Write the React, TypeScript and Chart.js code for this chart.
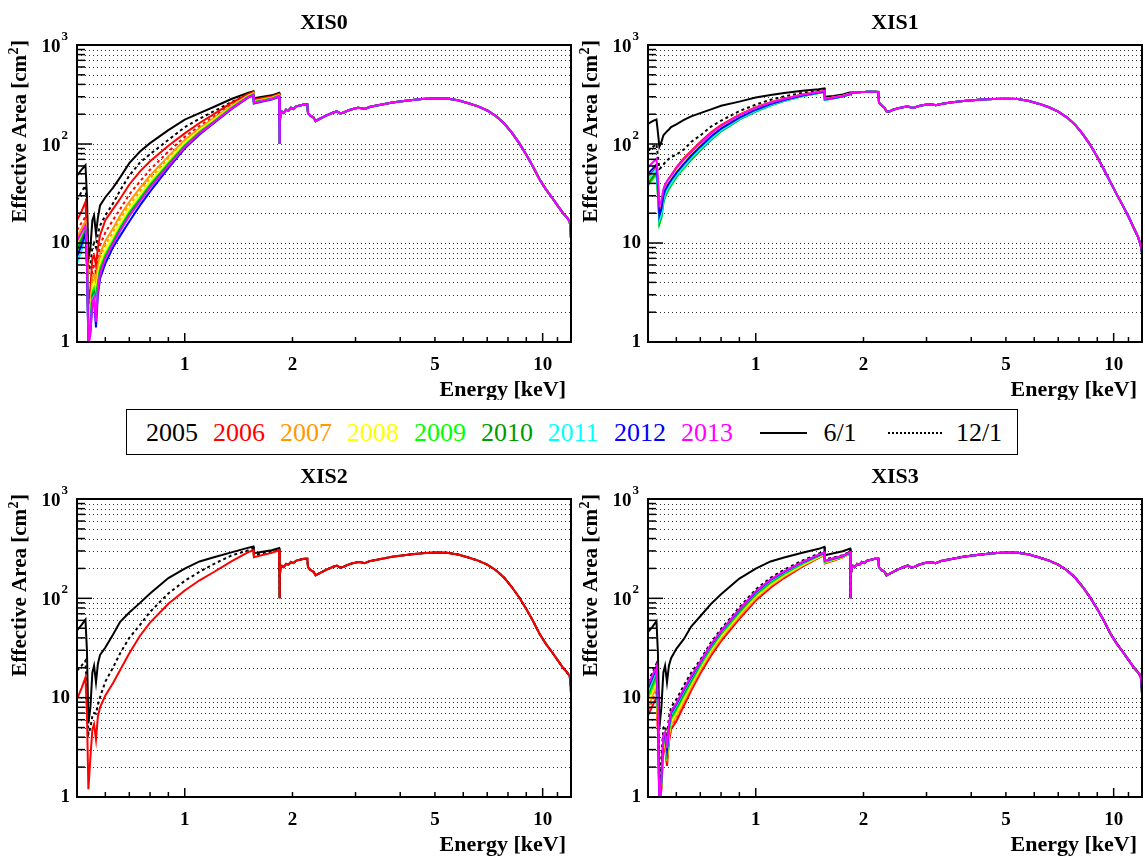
import React, { useEffect, useRef } from "react";
import { Chart, registerables } from "chart.js";

Chart.register(...registerables);

const FONT = "'Liberation Serif', 'Times New Roman', serif";

const YEARS = ["2005", "2006", "2007", "2008", "2009", "2010", "2011", "2012", "2013"];
const YEAR_COLORS = ["#000000", "#ff0000", "#ff9900", "#ffff00", "#00ff00", "#009a00", "#00ffff", "#0000ff", "#ff00ff"];
const X_TICK_LABELS = [1, 2, 5, 10];
const X_MINOR_TICKS = [0.6, 0.7, 0.8, 0.9, 2, 3, 4, 5, 6, 7, 8, 9, 11];
const X_MAJOR_TICKS = [1, 10];
const Y_MAJOR_TICKS = [1, 10, 100, 1000];
const X_MIN = 0.5;
const X_MAX = 12;
const Y_MIN = 1;
const Y_MAX = 1000;

// energy grid (keV) of the low-energy part, where the curves differ
const E_LO = [0.5, 0.515, 0.528, 0.533, 0.538, 0.545, 0.552, 0.558, 0.565, 0.572, 0.58, 0.6, 0.63, 0.66, 0.7, 0.75, 0.8, 0.9, 1.0, 1.1, 1.2, 1.35, 1.5, 1.555, 1.56, 1.65, 1.75, 1.835];
// energy grid of the high-energy part, where all curves of a sensor coincide
const E_TAIL = [1.84, 1.845, 1.855, 1.87, 1.89, 1.92, 1.95, 1.98, 2.01, 2.05, 2.1, 2.15, 2.2, 2.21, 2.25, 2.29, 2.32, 2.36, 2.42, 2.5, 2.6, 2.66, 2.72, 2.78, 2.86, 2.95, 3.05, 3.12, 3.18, 3.3, 3.5, 3.8, 4.2, 4.6, 5.0, 5.4, 5.8, 6.2, 6.6, 7.0, 7.4, 7.8, 8.2, 8.6, 9.0, 9.4, 9.8, 10.2, 10.6, 11.0, 11.4, 11.7, 11.9, 11.97, 12.0];
const TAIL_FI = [100, 175, 200, 212, 206, 222, 218, 232, 226, 240, 245, 250, 250, 205, 192, 185, 170, 176, 185, 196, 208, 214, 204, 208, 218, 226, 232, 230, 226, 238, 248, 262, 275, 284, 289, 288, 276, 258, 240, 218, 192, 162, 130, 102, 78, 59, 44, 35, 29, 24, 20, 18, 16.5, 13.5, 11];
const TAIL_BI = [328, 325, 330, 333, 330, 334, 333, 336, 335, 337, 338, 337, 335, 262, 245, 232, 214, 212, 222, 230, 237, 240, 232, 234, 242, 248, 252, 250, 246, 254, 262, 272, 280, 285, 287, 284, 272, 254, 235, 212, 186, 157, 126, 98, 74, 55, 41, 31, 24, 18.5, 14, 11.5, 9.5, 8.5, 8];

// XIS0
const XIS0_2005_JUN = [48, 55, 61, 30, 7, 9, 17, 19, 12.5, 18, 24, 29, 36, 46, 64, 84, 102, 138, 176, 205, 235, 285, 328, 340, 290, 300, 310, 328];
const XIS0_2005_DEC = [27, 33, 38, 20, 5, 6, 9, 10, 9, 12.5, 15, 19, 25, 34, 48, 65, 79, 110, 148, 180, 212, 265, 318, 335, 283, 295, 305, 322];
const XIS0_2006_JUN = [17, 21, 26, 12, 2.5, 3.5, 7, 7.5, 6, 9, 12, 17, 22, 28, 39, 53, 67, 96, 128, 163, 198, 260, 318, 335, 280, 292, 302, 320];
const XIS0_2006_DEC = [13.5, 16, 18.5, 9, 2, 2.8, 5.5, 5.8, 5, 7, 9.5, 12.8, 17, 22, 31, 42, 55, 84, 118, 152, 187, 250, 312, 330, 276, 288, 298, 316];
const XIS0_2007_JUN = [11.4, 14, 16.5, 8, 1.7, 2.3, 4.5, 4.8, 4, 5.8, 7.8, 10.5, 14, 19, 26, 36, 48, 75, 110, 145, 180, 243, 308, 326, 272, 284, 295, 313];
const XIS0_2007_DEC = [10.5, 13, 15.5, 7.5, 1.5, 2.1, 4.1, 4.4, 3.6, 5.2, 7, 9.5, 12.8, 17.5, 24, 33.5, 45, 71, 106, 141, 176, 240, 306, 324, 270, 282, 293, 311];
const XIS0_2008_JUN = [9.5, 12, 14.5, 7, 1.4, 1.9, 3.7, 4, 3.3, 4.7, 6.3, 8.6, 11.8, 16, 22.5, 31, 42, 68, 103, 138, 173, 237, 304, 322, 268, 280, 292, 310];
const XIS0_2009_JUN = [9, 11.3, 13.8, 6.5, 1.2, 1.6, 3.2, 3.5, 2.8, 4.1, 5.6, 7.7, 10.6, 14.5, 20.5, 28.5, 39, 64, 98, 133, 168, 233, 300, 318, 265, 277, 289, 307];
const XIS0_2010_JUN = [8.4, 10.7, 13.2, 6.2, 1.1, 1.5, 3, 3.2, 2.6, 3.8, 5.2, 7.2, 10, 13.8, 19.6, 27.3, 37.5, 62, 95, 130, 165, 230, 297, 315, 262, 274, 287, 305];
const XIS0_2011_JUN = [6.2, 8.5, 12.3, 5.8, 1, 1.35, 2.7, 2.9, 2.3, 3.4, 4.7, 6.6, 9.3, 13, 18.5, 26, 35.8, 59.5, 92, 127, 162, 227, 294, 312, 259, 271, 284, 302];
const XIS0_2012_JUN = [7.3, 9.6, 12.5, 5.8, 0.95, 1.25, 2.5, 2.6, 1.4, 3, 4.4, 6.2, 9, 11.8, 16.5, 24, 33, 57, 90, 125, 160, 225, 292, 310, 257, 269, 282, 300];
const XIS0_2013_JUN = [10.5, 12.8, 15, 7, 0.9, 1.2, 2.6, 2.8, 1.6, 3.4, 4.9, 7, 9.8, 13.3, 18.8, 26.4, 36.3, 60, 93, 128, 163, 228, 295, 313, 260, 272, 285, 303];

// XIS1
const XIS1_2005_JUN = [160, 170, 177, 130, 94, 105, 122, 128, 134, 140, 148, 158, 175, 190, 205, 224, 243, 268, 295, 313, 328, 345, 358, 365, 300, 306, 316, 332];
const XIS1_2005_DEC = [85, 93, 100, 75, 56, 58, 62, 65, 68, 71, 74, 78, 88, 105, 122, 150, 172, 215, 250, 280, 302, 328, 345, 352, 295, 302, 312, 328];
const XIS1_2006_JUN = [46, 52, 58, 36, 20, 23, 33, 38, 41, 45, 48, 58, 72, 85, 105, 131, 155, 198, 235, 264, 287, 317, 337, 345, 287, 296, 307, 323];
const XIS1_2007_JUN = [44, 50, 56, 34, 19, 22, 31, 36, 39, 43, 46, 55, 69, 82, 101, 127, 151, 194, 231, 261, 284, 315, 335, 343, 285, 295, 306, 322];
const XIS1_2008_JUN = [42, 48, 54, 33, 18, 21, 30, 34, 37, 41, 44, 53, 66, 79, 98, 123, 147, 190, 228, 258, 282, 313, 334, 342, 284, 294, 305, 321];
const XIS1_2009_JUN = [38, 44, 50, 30, 15.5, 18, 25, 29, 32, 35, 38, 46, 57, 69, 86, 110, 134, 176, 213, 245, 272, 304, 327, 335, 279, 289, 301, 318];
const XIS1_2010_JUN = [40, 46, 52, 31, 16, 18.5, 26, 30, 33, 36, 39, 47, 58, 70, 87, 111, 135, 177, 214, 246, 273, 305, 328, 336, 279, 289, 301, 318];
const XIS1_2011_JUN = [44, 50, 56, 33, 17, 19.5, 27, 31, 34, 37, 40, 48, 59, 72, 89, 113, 137, 179, 216, 248, 274, 306, 329, 337, 280, 290, 302, 319];
const XIS1_2012_JUN = [50, 56, 62, 38, 19, 22, 30, 34, 37, 40, 43, 51, 63, 76, 94, 119, 143, 185, 222, 253, 278, 309, 331, 339, 282, 292, 303, 320];
const XIS1_2013_JUN = [58, 65, 71, 45, 24, 27, 35, 39, 42, 45, 48, 57, 70, 83, 102, 128, 152, 195, 232, 262, 285, 315, 335, 343, 285, 295, 306, 322];

// XIS2
const XIS2_2005_JUN = [47.5, 54, 61, 30, 5.5, 8, 18, 21, 14.3, 22, 27, 32, 43, 58, 72, 90, 112, 160, 199, 235, 258, 290, 322, 333, 285, 295, 305, 320];
const XIS2_2005_DEC = [18.7, 21, 23.6, 12, 4.3, 5, 6.5, 7, 6.9, 8.5, 10.1, 14.5, 20, 28, 40, 54, 73, 112, 150, 185, 220, 270, 303, 318, 272, 285, 296, 312];
const XIS2_2006_JUN = [9.7, 12.5, 16, 7, 1.2, 2.5, 4.8, 5.4, 3.8, 6.5, 8, 10.5, 14, 19, 28, 42, 57, 88, 120, 152, 182, 235, 290, 305, 260, 273, 287, 305];

// XIS3
const XIS3_2005_JUN = [45.7, 52, 59, 28, 5, 8, 18, 21, 14.3, 21, 25, 31, 39, 52, 66, 88, 110, 158, 199, 235, 258, 288, 315, 330, 272, 285, 298, 317];
const XIS3_2005_DEC = [14.5, 18, 22, 10, 1.5, 2.5, 5, 5.2, 4, 6.3, 8, 9.6, 13.3, 17.8, 24, 36, 49, 81, 123, 161, 194, 240, 282, 296, 245, 258, 272, 295];
const XIS3_2006_JUN = [6.6, 8.3, 10.1, 4.5, 0.8, 1.2, 3, 3.1, 2.06, 3.6, 4.8, 5.8, 8.3, 11.8, 17.5, 26.5, 37, 62, 95, 128, 160, 208, 255, 272, 225, 240, 258, 283];
const XIS3_2006_DEC = [7.5, 9.5, 11.8, 5, 0.8, 1.25, 3.2, 3.3, 2.2, 3.8, 5, 6.1, 8.7, 12.3, 18.2, 27.5, 38.3, 64, 97, 131, 163, 211, 257, 274, 227, 242, 259, 284];
const XIS3_2007_JUN = [8, 10.5, 13, 5.5, 0.8, 1.3, 3.3, 3.5, 2.3, 4, 5.3, 6.5, 9.2, 12.8, 19, 28.5, 39.5, 66, 100, 134, 166, 213, 259, 276, 228, 243, 260, 284];
const XIS3_2008_JUN = [9, 11.5, 14.5, 6.2, 0.8, 1.35, 3.5, 3.7, 2.5, 4.3, 5.7, 7, 9.8, 13.6, 20, 30, 41.5, 69, 104, 138, 170, 217, 262, 279, 231, 246, 262, 286];
const XIS3_2009_JUN = [10, 12.8, 16, 7, 0.8, 1.4, 3.7, 3.9, 2.7, 4.6, 6.1, 7.5, 10.5, 14.4, 21, 31.5, 43.5, 72, 108, 143, 175, 222, 266, 282, 233, 248, 264, 288];
const XIS3_2010_JUN = [10.8, 14, 17.5, 7.5, 0.8, 1.4, 3.8, 4, 2.8, 4.8, 6.4, 7.9, 11, 15, 21.8, 32.5, 44.8, 74, 111, 147, 179, 226, 269, 285, 235, 250, 265, 289];
const XIS3_2011_JUN = [11.5, 15, 18.8, 8, 0.8, 1.45, 3.9, 4.2, 2.9, 5, 6.7, 8.3, 11.6, 15.7, 22.4, 33.4, 45.8, 76, 114, 150, 182, 229, 271, 287, 237, 251, 266, 290];
const XIS3_2012_JUN = [12.5, 16, 20, 8.5, 0.8, 1.5, 4, 4.3, 3, 5.2, 7, 8.6, 12, 16.1, 22.7, 34, 46.5, 77, 116, 153, 185, 231, 273, 289, 239, 252, 267, 291];
const XIS3_2013_JUN = [13.2, 17, 21, 9, 0.8, 1.5, 4.2, 4.5, 3.1, 5.5, 7.2, 8.8, 12.3, 16.5, 23, 34.5, 47, 78, 118, 155, 187, 233, 275, 290, 240, 253, 268, 292];

type Series = { year: number; dotted: boolean; low: number[] };

const XIS0_SERIES: Series[] = [
  { year: 0, dotted: false, low: XIS0_2005_JUN },
  { year: 0, dotted: true, low: XIS0_2005_DEC },
  { year: 1, dotted: false, low: XIS0_2006_JUN },
  { year: 1, dotted: true, low: XIS0_2006_DEC },
  { year: 2, dotted: false, low: XIS0_2007_JUN },
  { year: 2, dotted: true, low: XIS0_2007_DEC },
  { year: 3, dotted: false, low: XIS0_2008_JUN },
  { year: 4, dotted: false, low: XIS0_2009_JUN },
  { year: 5, dotted: false, low: XIS0_2010_JUN },
  { year: 6, dotted: false, low: XIS0_2011_JUN },
  { year: 7, dotted: false, low: XIS0_2012_JUN },
  { year: 8, dotted: false, low: XIS0_2013_JUN },
];
const XIS1_SERIES: Series[] = [
  { year: 0, dotted: false, low: XIS1_2005_JUN },
  { year: 0, dotted: true, low: XIS1_2005_DEC },
  { year: 1, dotted: false, low: XIS1_2006_JUN },
  { year: 2, dotted: false, low: XIS1_2007_JUN },
  { year: 3, dotted: false, low: XIS1_2008_JUN },
  { year: 4, dotted: false, low: XIS1_2009_JUN },
  { year: 5, dotted: false, low: XIS1_2010_JUN },
  { year: 6, dotted: false, low: XIS1_2011_JUN },
  { year: 7, dotted: false, low: XIS1_2012_JUN },
  { year: 8, dotted: false, low: XIS1_2013_JUN },
];
const XIS2_SERIES: Series[] = [
  { year: 0, dotted: false, low: XIS2_2005_JUN },
  { year: 0, dotted: true, low: XIS2_2005_DEC },
  { year: 1, dotted: false, low: XIS2_2006_JUN },
];
const XIS3_SERIES: Series[] = [
  { year: 0, dotted: false, low: XIS3_2005_JUN },
  { year: 1, dotted: false, low: XIS3_2006_JUN },
  { year: 1, dotted: true, low: XIS3_2006_DEC },
  { year: 2, dotted: false, low: XIS3_2007_JUN },
  { year: 3, dotted: false, low: XIS3_2008_JUN },
  { year: 4, dotted: false, low: XIS3_2009_JUN },
  { year: 5, dotted: false, low: XIS3_2010_JUN },
  { year: 6, dotted: false, low: XIS3_2011_JUN },
  { year: 7, dotted: false, low: XIS3_2012_JUN },
  { year: 0, dotted: true, low: XIS3_2005_DEC },
  { year: 8, dotted: false, low: XIS3_2013_JUN },
];

const PANELS = [
  { title: "XIS0", series: XIS0_SERIES, tail: TAIL_FI, left: 0, top: 0, w: 574, h: 400, pad: { left: 77, top: 45, right: 3, bottom: 58 } },
  { title: "XIS1", series: XIS1_SERIES, tail: TAIL_BI, left: 574, top: 0, w: 571, h: 400, pad: { left: 74, top: 45, right: 3, bottom: 58 } },
  { title: "XIS2", series: XIS2_SERIES, tail: TAIL_FI, left: 0, top: 456, w: 574, h: 403, pad: { left: 77, top: 43, right: 3, bottom: 62 } },
  { title: "XIS3", series: XIS3_SERIES, tail: TAIL_FI, left: 574, top: 456, w: 571, h: 403, pad: { left: 74, top: 43, right: 3, bottom: 62 } },
];

function buildDatasets(series: Series[], tail: number[]) {
  const n = series.length;
  return series.map((s, i) => ({
    label: `${YEARS[s.year]} ${s.dotted ? "12/1" : "6/1"}`,
    data: [
      ...E_LO.map((x, j) => ({ x, y: s.low[j] })),
      ...E_TAIL.map((x, j) => ({ x, y: tail[j] })),
    ],
    borderColor: YEAR_COLORS[s.year],
    backgroundColor: YEAR_COLORS[s.year],
    borderWidth: 2,
    borderDash: s.dotted ? [3, 3] : [],
    pointRadius: 0,
    fill: false,
    tension: 0,
    // later series are painted on top (lower order = drawn last)
    order: n - i,
  }));
}

const rootAxesPlugin = {
  id: "rootAxes",
  beforeDatasetsDraw(chart: any) {
    const { ctx, chartArea: a } = chart;
    const ys = chart.scales.y;
    ctx.save();
    ctx.strokeStyle = "#333";
    ctx.lineWidth = 1;
    ctx.setLineDash([1, 3]);
    for (let d = 1; d < 1000; d *= 10) {
      for (let k = 1; k <= 9; k++) {
        const v = k * d;
        if (v === 1) continue;
        const py = Math.round(ys.getPixelForValue(v)) + 0.5;
        ctx.beginPath();
        ctx.moveTo(a.left, py);
        ctx.lineTo(a.right, py);
        ctx.stroke();
      }
    }
    ctx.restore();
  },
  afterDraw(chart: any, _args: any, opts: any) {
    const { ctx, chartArea: a } = chart;
    const xs = chart.scales.x;
    const ys = chart.scales.y;
    ctx.save();
    ctx.setLineDash([]);
    ctx.strokeStyle = "#000";
    ctx.fillStyle = "#000";
    // frame
    ctx.lineWidth = 2;
    ctx.strokeRect(a.left, a.top, a.right - a.left, a.bottom - a.top);
    // y ticks (inside, left side)
    ctx.lineWidth = 1.5;
    for (let d = 1; d <= 1000; d *= 10) {
      for (let k = 1; k <= 9; k++) {
        const v = k * d;
        if (v > 1000) break;
        const len = k === 1 ? 15 : 8;
        const py = ys.getPixelForValue(v);
        ctx.beginPath();
        ctx.moveTo(a.left, py);
        ctx.lineTo(a.left + len, py);
        ctx.stroke();
      }
    }
    // x ticks (inside, bottom)
    for (const v of X_MINOR_TICKS) {
      const px = xs.getPixelForValue(v);
      ctx.beginPath();
      ctx.moveTo(px, a.bottom);
      ctx.lineTo(px, a.bottom - 5);
      ctx.stroke();
    }
    for (const v of X_MAJOR_TICKS) {
      const px = xs.getPixelForValue(v);
      ctx.beginPath();
      ctx.moveTo(px, a.bottom);
      ctx.lineTo(px, a.bottom - 9);
      ctx.stroke();
    }
    // x labels
    ctx.font = `bold 19px ${FONT}`;
    ctx.textAlign = "center";
    ctx.textBaseline = "alphabetic";
    for (const v of X_TICK_LABELS) {
      ctx.fillText(String(v), xs.getPixelForValue(v), a.bottom + 28);
    }
    // y labels
    for (const v of Y_MAJOR_TICKS) {
      const py = ys.getPixelForValue(v);
      const n = Math.round(Math.log10(v));
      if (n <= 1) {
        ctx.font = `bold 19px ${FONT}`;
        ctx.textAlign = "right";
        ctx.textBaseline = "middle";
        ctx.fillText(String(v), a.left - 7, py);
      } else {
        ctx.font = `bold 13px ${FONT}`;
        const ws = ctx.measureText(String(n)).width;
        ctx.textAlign = "left";
        ctx.textBaseline = "alphabetic";
        ctx.fillText(String(n), a.left - 9 - ws, py - 5);
        ctx.font = `bold 19px ${FONT}`;
        ctx.textAlign = "right";
        ctx.textBaseline = "middle";
        ctx.fillText("10", a.left - 10 - ws, py + 2);
      }
    }
    // x title
    ctx.font = `bold 22px ${FONT}`;
    ctx.textAlign = "right";
    ctx.textBaseline = "alphabetic";
    ctx.fillText("Energy [keV]", a.right - 5, a.bottom + 54);
    // y title (rotated)
    ctx.save();
    ctx.translate(a.left - 56, a.top - 5);
    ctx.rotate(-Math.PI / 2);
    ctx.textBaseline = "middle";
    ctx.textAlign = "left";
    const t1 = "Effective Area [cm";
    const t2 = "2";
    const t3 = "]";
    ctx.font = `bold 21px ${FONT}`;
    const w1 = ctx.measureText(t1).width;
    const w3 = ctx.measureText(t3).width;
    ctx.font = `bold 14px ${FONT}`;
    const w2 = ctx.measureText(t2).width;
    const total = w1 + w2 + w3 + 1;
    ctx.font = `bold 21px ${FONT}`;
    ctx.fillText(t1, -total, 0);
    ctx.fillText(t3, -total + w1 + w2 + 1, 0);
    ctx.font = `bold 14px ${FONT}`;
    ctx.fillText(t2, -total + w1 + 0.5, -7);
    ctx.restore();
    // title
    ctx.font = `bold 22px ${FONT}`;
    ctx.textAlign = "center";
    ctx.textBaseline = "alphabetic";
    ctx.fillText(opts.title, (a.left + a.right) / 2, a.top - 16);
    ctx.restore();
  },
};

function Panel({ cfg }: { cfg: (typeof PANELS)[number] }) {
  const ref = useRef<HTMLCanvasElement>(null);
  useEffect(() => {
    const chart = new Chart(ref.current as HTMLCanvasElement, {
      type: "line",
      data: { datasets: buildDatasets(cfg.series, cfg.tail) as any },
      options: {
        responsive: false,
        maintainAspectRatio: false,
        animation: false,
        layout: { padding: cfg.pad },
        scales: {
          x: { type: "logarithmic", min: X_MIN, max: X_MAX, display: false },
          y: { type: "logarithmic", min: Y_MIN, max: Y_MAX, display: false },
        },
        plugins: {
          legend: { display: false },
          tooltip: { enabled: false },
          rootAxes: { title: cfg.title },
        } as any,
        elements: { point: { radius: 0 }, line: { tension: 0 } },
      },
      plugins: [rootAxesPlugin as any],
    });
    return () => chart.destroy();
  }, []);
  return (
    <canvas
      ref={ref}
      width={cfg.w}
      height={cfg.h}
      style={{ position: "absolute", left: cfg.left, top: cfg.top, width: cfg.w, height: cfg.h, display: "block" }}
    />
  );
}

const LEGEND_YEAR_CENTERS = [172, 239, 306, 373, 440, 507, 573, 640, 707];

function Legend() {
  const textStyle = (cx: number, color: string): React.CSSProperties => ({
    position: "absolute",
    left: cx,
    top: 418,
    transform: "translateX(-50%)",
    fontFamily: FONT,
    fontSize: 26,
    lineHeight: "30px",
    color,
    whiteSpace: "nowrap",
  });
  return (
    <>
      <div
        style={{
          position: "absolute",
          left: 126,
          top: 409,
          width: 892,
          height: 46,
          border: "1.5px solid #000",
          boxSizing: "border-box",
          background: "#fff",
        }}
      />
      {YEARS.map((y, i) => (
        <span key={y} style={textStyle(LEGEND_YEAR_CENTERS[i], YEAR_COLORS[i])}>
          {y}
        </span>
      ))}
      <div style={{ position: "absolute", left: 760, top: 432, width: 47, height: 0, borderTop: "2px solid #000" }} />
      <span style={textStyle(840, "#000")}>6/1</span>
      <div style={{ position: "absolute", left: 888, top: 432, width: 54, height: 0, borderTop: "2px dotted #000" }} />
      <span style={textStyle(979, "#000")}>12/1</span>
    </>
  );
}

export default function App() {
  return (
    <div style={{ position: "absolute", left: 0, top: 0, width: 1145, height: 859, background: "#fff", overflow: "hidden" }}>
      {PANELS.map((p) => (
        <Panel key={p.title} cfg={p} />
      ))}
      <Legend />
    </div>
  );
}
